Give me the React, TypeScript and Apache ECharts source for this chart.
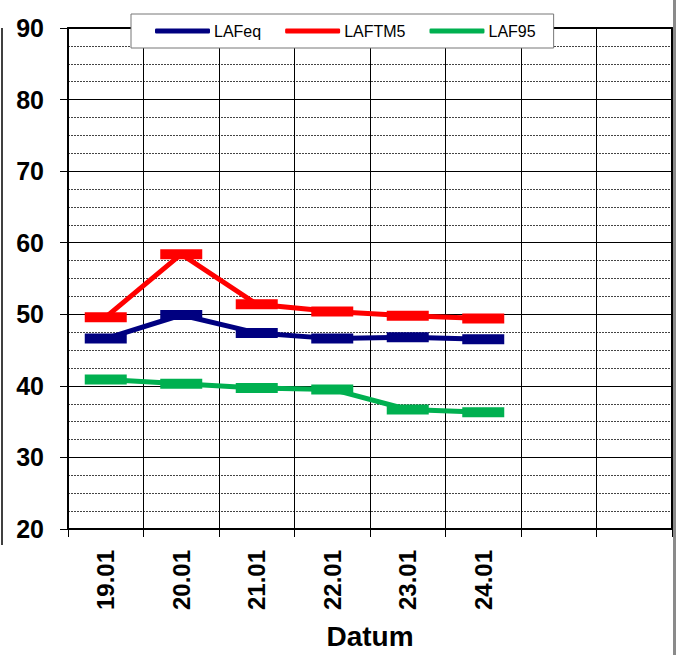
import React, { useEffect, useRef } from "react";
import * as echarts from "echarts";

const categories = ["19.01", "20.01", "21.01", "22.01", "23.01", "24.01", "", ""];
const lafeq = [46.6, 49.9, 47.4, 46.6, 46.8, 46.5];
const laftm5 = [49.6, 58.4, 51.4, 50.4, 49.8, 49.4];
const laf95 = [40.9, 40.3, 39.7, 39.5, 36.7, 36.3];
const seriesNames = ["LAFeq", "LAFTM5", "LAF95"];
const colors = ["#000080", "#FF0000", "#00B050"];

const FONT = "'Liberation Sans', Arial, sans-serif";

export default function App() {
  const ref = useRef<HTMLDivElement>(null);
  useEffect(() => {
    if (!ref.current) return;
    const chart = echarts.init(ref.current, undefined, { renderer: "svg" });
    const values = [lafeq, laftm5, laf95];
    chart.setOption({
      animation: false,
      backgroundColor: "#ffffff",
      textStyle: { fontFamily: FONT },
      grid: { left: 68, top: 28, right: 6, bottom: 120, containLabel: false },
      legend: {
        left: 131,
        top: 14,
        padding: [9, 18, 9, 24],
        itemGap: 24,
        itemWidth: 55,
        itemHeight: 5,
        icon: "roundRect",
        backgroundColor: "#ffffff",
        borderColor: "#777777",
        borderWidth: 1,
        textStyle: { fontSize: 16, color: "#000", fontFamily: FONT, padding: [0, 0, 0, -1] },
        data: seriesNames,
        z: 10,
      },
      xAxis: [
        {
          type: "category",
          data: categories,
          boundaryGap: true,
          axisLine: { show: true, lineStyle: { color: "#000", width: 2 } },
          axisTick: { show: true, length: 8, inside: false, lineStyle: { color: "#000", width: 1 } },
          axisLabel: {
            rotate: 90,
            margin: 21,
            interval: 0,
            fontSize: 24,
            fontWeight: "bold",
            color: "#000",
            fontFamily: FONT,
          },
          splitLine: { show: true, interval: 0, lineStyle: { color: "#000", width: 1 } },
          name: "Datum",
          nameLocation: "middle",
          nameGap: 93,
          nameTextStyle: { fontSize: 28, fontWeight: "bold", color: "#000", fontFamily: FONT },
        },
        {
          type: "category",
          data: categories,
          position: "top",
          axisLine: { show: true, lineStyle: { color: "#000", width: 2 } },
          axisTick: { show: false },
          axisLabel: { show: false },
          splitLine: { show: false },
        },
      ],
      yAxis: [
        {
          type: "value",
          min: 20,
          max: 90,
          interval: 10,
          axisLine: { show: true, lineStyle: { color: "#000", width: 2 } },
          axisTick: { show: true, length: 8, inside: false, lineStyle: { color: "#000", width: 1 } },
          axisLabel: {
            margin: 24,
            fontSize: 25,
            fontWeight: "bold",
            color: "#000",
            fontFamily: FONT,
          },
          splitLine: { show: true, lineStyle: { color: "#000", width: 1 } },
          minorTick: { show: false, splitNumber: 4 },
          minorSplitLine: { show: true, lineStyle: { color: "#444", width: 1, type: [2, 1] } },
        },
        {
          type: "value",
          min: 20,
          max: 90,
          interval: 10,
          position: "right",
          axisLine: { show: true, lineStyle: { color: "#000", width: 2 } },
          axisTick: { show: false },
          axisLabel: { show: false },
          splitLine: { show: false },
        },
      ],
      series: seriesNames.map((name, i) => ({
        name,
        type: "line",
        data: values[i],
        xAxisIndex: 0,
        yAxisIndex: 0,
        symbol: "rect",
        symbolSize: [42, 10],
        showAllSymbol: true,
        itemStyle: { color: colors[i] },
        lineStyle: { color: colors[i], width: 5 },
        z: 3,
      })),
      graphic: [
        {
          type: "line",
          shape: { x1: 2, y1: 28, x2: 2, y2: 545 },
          style: { stroke: "#000", lineWidth: 1.5 },
        },
        {
          type: "rect",
          shape: { x: 673, y: 0, width: 3, height: 655 },
          style: { fill: "#8a8a8a" },
        },
      ],
    });
    return () => chart.dispose();
  }, []);
  return (
    <div
      ref={ref}
      style={{ position: "fixed", left: 0, top: 0, width: 678, height: 655 }}
    />
  );
}
